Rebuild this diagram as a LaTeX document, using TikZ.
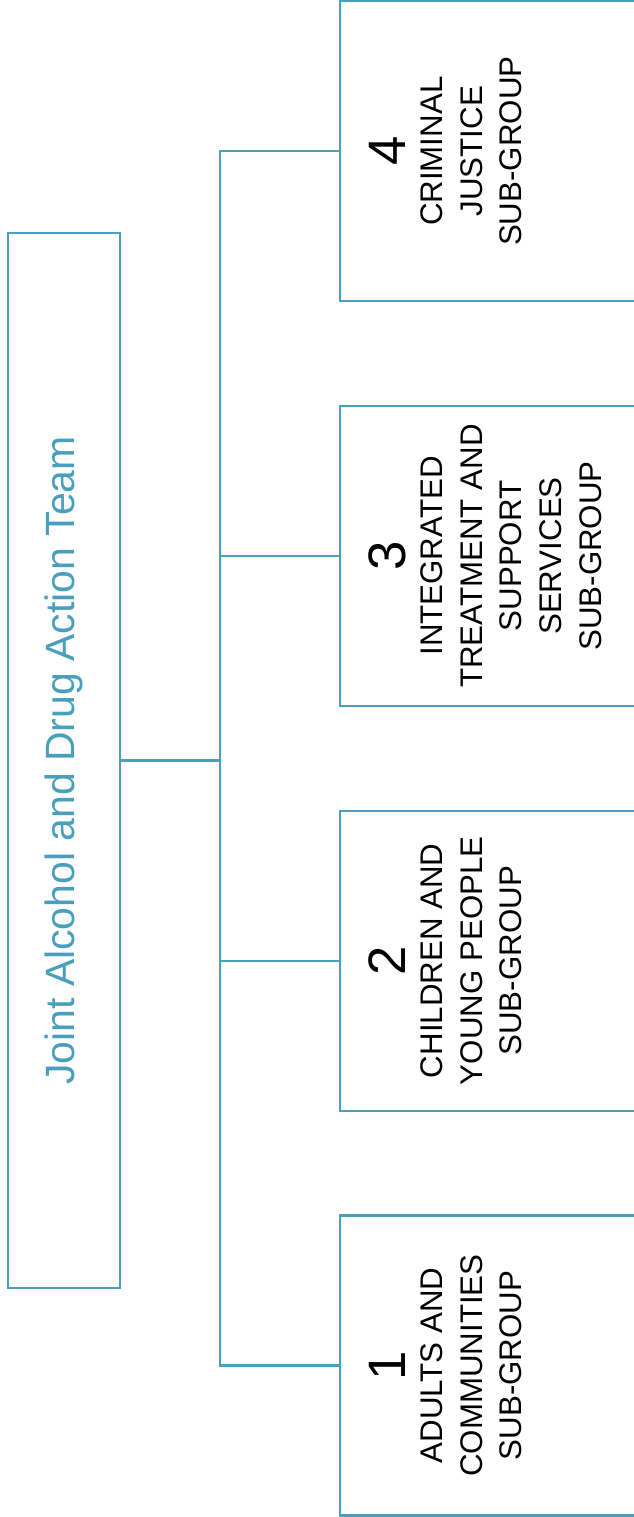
\documentclass[tikz,border=0pt]{standalone}
\usepackage{fontspec}
\setmainfont{Liberation Sans}
\definecolor{teamblue}{RGB}{74,160,188}
\tikzset{
  line/.style={draw=teamblue, line width=1.4pt},
  groupbox/.style={line, rectangle, minimum width=7cm, minimum height=6cm, anchor=west},
}
\begin{document}
\begin{tikzpicture}[font=\fontsize{17.8}{22.7}\selectfont]
	\useasboundingbox (0,0) rectangle (12.66,30.34);
	\node[line, minimum width=2.24cm, minimum height=21.1cm] (team) at (1.28,15.13) {};
	\node[rotate=90, text=teamblue, font=\fontsize{23.3}{28}\selectfont] (title) at (team.center) {Joint Alcohol and Drug Action Team};
	\coordinate (hub) at (4.40,0);
	\draw[line] (team.east) -- (hub |- team.east);
	\foreach \i/\y/\txt in {1/3.03/{ADULTS AND\\COMMUNITIES\\SUB-GROUP}, 2/11.125/{CHILDREN AND\\YOUNG PEOPLE\\SUB-GROUP}, 3/19.22/{INTEGRATED\\TREATMENT AND\\SUPPORT\\SERVICES\\SUB-GROUP}, 4/27.315/{CRIMINAL\\JUSTICE\\SUB-GROUP}}{
	\node[groupbox] (box\i) at (6.78,\y) {};
	\node[rotate=90, anchor=base, font=\fontsize{30}{36}\selectfont] (num\i) at (8.10,\y) {\i};
	\node[rotate=90, anchor=north, align=center, inner sep=0pt] (lab\i) at (8.40,\y) {\txt};
	}
	\draw[line] (box4.west) -| (hub |- box1.west) -- (box1.west);
	\foreach \i in {2,3}
	\draw[line] (hub |- box\i.west) -- (box\i.west);
\end{tikzpicture}
\end{document}
